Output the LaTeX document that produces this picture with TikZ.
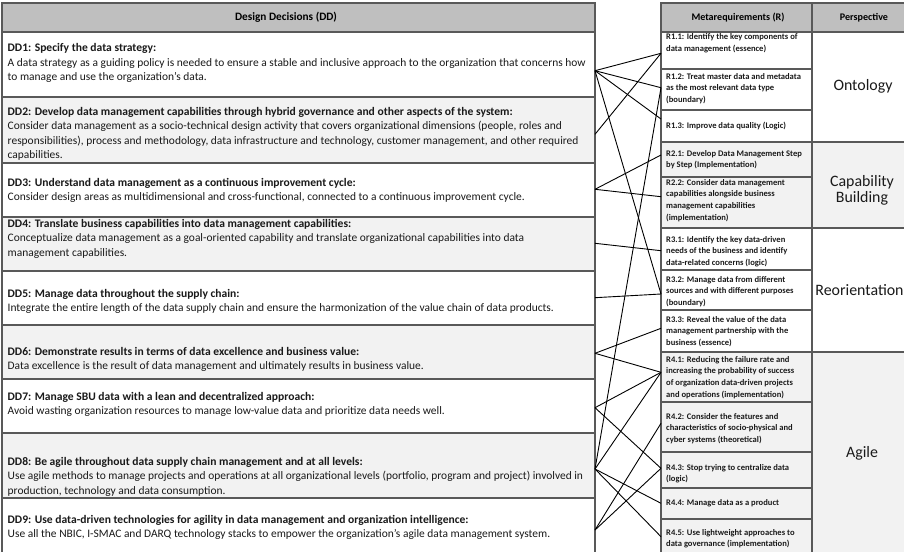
\documentclass[tikz,border=0pt]{standalone}
\usepackage{fontspec}
\setmainfont{Carlito}
\definecolor{hdr}{HTML}{BFBFBF}
\definecolor{rowg}{HTML}{F2F2F2}
\definecolor{bord}{HTML}{595959}
\definecolor{txt}{HTML}{1A1A1A}
\newlength\wtmp
\newcommand\calibsize[3]{\settowidth\wtmp{\normalfont\fontsize{10}{12}\selectfont #2}\pgfmathsetmacro#1{10*#3/\wtmp}\global\let#1#1}
\newcommand{\ddtitle}[1]{{\fontsize{\titlesz}{14.5}\selectfont\bfseries #1}}
\begin{document}
\calibsize\bodysz{A data strategy as a guiding policy is needed to ensure a stable and inclusive approach to the organization that concerns how}{578}%
\calibsize\titlesz{\bfseries DD2: Develop data management capabilities through hybrid governance and other aspects of the system:}{505}%
\calibsize\rsz{\bfseries increasing the probability of success}{128}%
\calibsize\hdrsz{\bfseries Design Decisions (DD)}{102}%
\calibsize\hdrbsz{\bfseries Metarequirements (R)}{93}%
\calibsize\psz{Ontology}{59}%
\begin{tikzpicture}[x=1pt,y=-1pt,
  cell/.style={draw=bord, line width=1.1pt, anchor=north west, inner sep=0pt, outer sep=0pt},
  ddtext/.style={anchor=base west, inner sep=0pt, text=txt, font=\fontsize{\bodysz}{14.5}\selectfont},
  rtext/.style={anchor=base west, inner sep=0pt, text=txt, font=\fontsize{\rsz}{11.8}\selectfont\bfseries},
  hdrtext/.style={inner sep=0pt, text=black, font=\fontsize{\hdrsz}{13}\selectfont\bfseries},
  hdrtextb/.style={inner sep=0pt, text=black, font=\fontsize{\hdrbsz}{13}\selectfont\bfseries},
  ptext/.style={inner sep=0pt, text=txt, align=center, font=\fontsize{\psz}{16}\selectfont},
  link/.style={draw=black, line width=0.9pt}]
\useasboundingbox (0,0) rectangle (904,551);
\clip (0,0) rectangle (904,551);
\fill[white] (0,0) rectangle (904,551);
% ---------- left table ----------
\node[cell, fill=hdr, minimum width=593pt, minimum height=29pt] (ddh) at (2,3) {};
\node[hdrtext] (ddht) at (286,17.5) {Design Decisions (DD)};
\node[cell, fill=white, minimum width=593pt, minimum height=65pt] (dd1) at (2,32) {};
\node[cell, fill=rowg, minimum width=593pt, minimum height=66pt] (dd2) at (2,97) {};
\node[cell, fill=white, minimum width=593pt, minimum height=54pt] (dd3) at (2,163) {};
\node[cell, fill=rowg, minimum width=593pt, minimum height=54pt] (dd4) at (2,217) {};
\node[cell, fill=white, minimum width=593pt, minimum height=54pt] (dd5) at (2,271) {};
\node[cell, fill=rowg, minimum width=593pt, minimum height=54pt] (dd6) at (2,325) {};
\node[cell, fill=white, minimum width=593pt, minimum height=54pt] (dd7) at (2,379) {};
\node[cell, fill=rowg, minimum width=593pt, minimum height=65pt] (dd8) at (2,433) {};
\node[cell, fill=white, minimum width=593pt, minimum height=70pt] (dd9) at (2,498) {};
\node[ddtext] (t1) at (7.5,52) {\parbox[t]{588pt}{\ddtitle{DD1: Specify the data strategy:}\\
A data strategy as a guiding policy is needed to ensure a stable and inclusive approach to the organization that concerns how\\
to manage and use the organization's data.}};
\node[ddtext] (t2) at (7.5,115) {\parbox[t]{588pt}{\ddtitle{DD2: Develop data management capabilities through hybrid governance and other aspects of the system:}\\
Consider data management as a socio-technical design activity that covers organizational dimensions (people, roles and\\
responsibilities), process and methodology, data infrastructure and technology, customer management, and other required\\
capabilities.}};
\node[ddtext] (t3) at (7.5,186) {\parbox[t]{588pt}{\ddtitle{DD3: Understand data management as a continuous improvement cycle:}\\
Consider design areas as multidimensional and cross-functional, connected to a continuous improvement cycle.}};
\node[ddtext] (t4) at (7.5,227) {\parbox[t]{588pt}{\ddtitle{DD4: Translate business capabilities into data management capabilities:}\\
Conceptualize data management as a goal-oriented capability and translate organizational capabilities into data\\
management capabilities.}};
\node[ddtext] (t5) at (7.5,297) {\parbox[t]{588pt}{\ddtitle{DD5: Manage data throughout the supply chain:}\\
Integrate the entire length of the data supply chain and ensure the harmonization of the value chain of data products.}};
\node[ddtext] (t6) at (7.5,355) {\parbox[t]{588pt}{\ddtitle{DD6: Demonstrate results in terms of data excellence and business value:}\\
Data excellence is the result of data management and ultimately results in business value.}};
\node[ddtext] (t7) at (7.5,400) {\parbox[t]{588pt}{\ddtitle{DD7: Manage SBU data with a lean and decentralized approach:}\\
Avoid wasting organization resources to manage low-value data and prioritize data needs well.}};
\node[ddtext] (t8) at (7.5,465) {\parbox[t]{588pt}{\ddtitle{DD8: Be agile throughout data supply chain management and at all levels:}\\
Use agile methods to manage projects and operations at all organizational levels (portfolio, program and project) involved in\\
production, technology and data consumption.}};
\node[ddtext] (t9) at (7.5,523) {\parbox[t]{588pt}{\ddtitle{DD9: Use data-driven technologies for agility in data management and organization intelligence:}\\
Use all the NBIC, I-SMAC and DARQ technology stacks to empower the organization's agile data management system.}};
% ---------- right table ----------
\node[cell, fill=hdr, minimum width=151pt, minimum height=29pt] (rh) at (661,3) {};
\node[cell, fill=hdr, minimum width=95pt, minimum height=29pt] (ph) at (812,3) {};
\node[hdrtextb] (rht) at (738,17.5) {Metarequirements (R)};
\node[hdrtextb] (pht) at (864,17.5) {Perspective};
\node[cell, fill=white, minimum width=151pt, minimum height=37pt] (r11) at (661,32) {};
\node[cell, fill=white, minimum width=151pt, minimum height=41pt] (r12) at (661,69) {};
\node[cell, fill=white, minimum width=151pt, minimum height=32pt] (r13) at (661,110) {};
\node[cell, fill=rowg, minimum width=151pt, minimum height=35pt] (r21) at (661,142) {};
\node[cell, fill=rowg, minimum width=151pt, minimum height=51pt] (r22) at (661,177) {};
\node[cell, fill=white, minimum width=151pt, minimum height=42pt] (r31) at (661,228) {};
\node[cell, fill=white, minimum width=151pt, minimum height=40pt] (r32) at (661,270) {};
\node[cell, fill=white, minimum width=151pt, minimum height=42pt] (r33) at (661,310) {};
\node[cell, fill=rowg, minimum width=151pt, minimum height=50pt] (r41) at (661,352) {};
\node[cell, fill=rowg, minimum width=151pt, minimum height=50pt] (r42) at (661,402) {};
\node[cell, fill=rowg, minimum width=151pt, minimum height=36pt] (r43) at (661,452) {};
\node[cell, fill=rowg, minimum width=151pt, minimum height=31pt] (r44) at (661,488) {};
\node[cell, fill=rowg, minimum width=151pt, minimum height=45pt] (r45) at (661,519) {};
\node[cell, fill=white, minimum width=95pt, minimum height=110pt] (p1) at (812,32) {};
\node[cell, fill=rowg, minimum width=95pt, minimum height=86pt] (p2) at (812,142) {};
\node[cell, fill=white, minimum width=95pt, minimum height=124pt] (p3) at (812,228) {};
\node[cell, fill=rowg, minimum width=95pt, minimum height=220pt] (p4) at (812,352) {};
\node[rtext] (rt11) at (666,40) {\parbox[t]{145pt}{R1.1: Identify the key components of\\data management (essence)}};
\node[rtext] (rt12) at (666,79) {\parbox[t]{145pt}{R1.2: Treat master data and metadata\\as the most relevant data type\\(boundary)}};
\node[rtext] (rt13) at (666,128) {\parbox[t]{145pt}{R1.3: Improve data quality (Logic)}};
\node[rtext] (rt21) at (666,156) {\parbox[t]{145pt}{R2.1: Develop Data Management Step\\by Step (Implementation)}};
\node[rtext] (rt22) at (666,185) {\parbox[t]{145pt}{R2.2: Consider data management\\capabilities alongside business\\management capabilities\\(implementation)}};
\node[rtext] (rt31) at (666,242) {\parbox[t]{145pt}{R3.1: Identify the key data-driven\\needs of the business and identify\\data-related concerns (logic)}};
\node[rtext] (rt32) at (666,282) {\parbox[t]{145pt}{R3.2: Manage data from different\\sources and with different purposes\\(boundary)}};
\node[rtext] (rt33) at (666,322) {\parbox[t]{145pt}{R3.3: Reveal the value of the data\\management partnership with the\\business (essence)}};
\node[rtext] (rt41) at (666,362) {\parbox[t]{145pt}{R4.1: Reducing the failure rate and\\increasing the probability of success\\of organization data-driven projects\\and operations (implementation)}};
\node[rtext] (rt42) at (666,419) {\parbox[t]{145pt}{R4.2: Consider the features and\\characteristics of socio-physical and\\cyber systems (theoretical)}};
\node[rtext] (rt43) at (666,470) {\parbox[t]{145pt}{R4.3: Stop trying to centralize data\\(logic)}};
\node[rtext] (rt44) at (666,505) {\parbox[t]{145pt}{R4.4: Manage data as a product}};
\node[rtext] (rt45) at (666,535) {\parbox[t]{145pt}{R4.5: Use lightweight approaches to\\data governance (implementation)}};
\node[ptext] (pt1) at (863,86) {Ontology};
\node[ptext] (pt2) at (862,190) {Capability\\Building};
\node[ptext] (pt3) at (859.5,290) {Reorientation};
\node[ptext] (pt4) at (862,453) {Agile};
% ---------- connector end points ----------
\coordinate (s1) at (595,70.7);
\coordinate (s2) at (595,134.3);
\coordinate (s3) at (595,189.3);
\coordinate (s4) at (595,243.3);
\coordinate (s5) at (595,297.7);
\coordinate (s6) at (595,353.3);
\coordinate (s7) at (595,407.7);
\coordinate (s8) at (595,469);
\coordinate (s9) at (595,530);
\coordinate (e11) at (661,53.3);
\coordinate (e12) at (661,87.7);
\coordinate (e13) at (661,119);
\coordinate (e21) at (661,155);
\coordinate (e22) at (661,196.7);
\coordinate (e31) at (661,250.7);
\coordinate (e32) at (661,294);
\coordinate (e33) at (661,328.3);
\coordinate (e41) at (661,372.3);
\coordinate (e42) at (661,423.3);
\coordinate (e43) at (661,468.3);
\coordinate (e44) at (661,503.3);
\coordinate (e45) at (661,536.7);
\draw[link] (s1) -- (e11);
\draw[link] (s1) -- (e12);
\draw[link] (s1) -- (e13);
\draw[link] (s1) -- (e32);
\draw[link] (s2) -- (e11);
\draw[link] (s3) -- (e21);
\draw[link] (s3) -- (e22);
\draw[link] (s4) -- (e31);
\draw[link] (s5) -- (e32);
\draw[link] (s6) -- (e33);
\draw[link] (s6) -- (e41);
\draw[link] (s7) -- (e41);
\draw[link] (s7) -- (e43);
\draw[link] (s8) -- (e12);
\draw[link] (s8) -- (e41);
\draw[link] (s8) -- (e44);
\draw[link] (s8) -- (e45);
\draw[link] (s9) -- (e42);
\draw[link] (s9) -- (e43);
\end{tikzpicture}
\end{document}
